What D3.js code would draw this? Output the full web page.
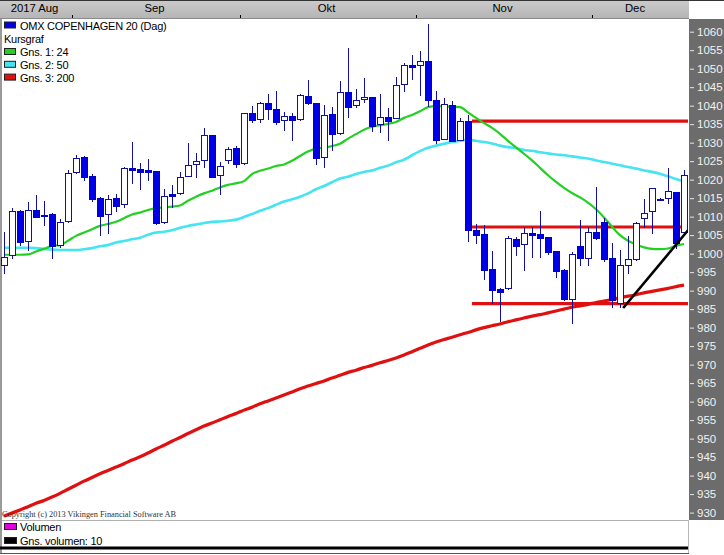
<!DOCTYPE html>
<html><head><meta charset="utf-8">
<script src="https://cdn.jsdelivr.net/npm/d3@7"></script>
<style>
html,body{margin:0;padding:0;background:#fff;}
svg{display:block;font-family:"Liberation Sans",Arial,sans-serif;}
</style>
</head><body>
<svg id="chart" width="724" height="555"></svg>
<script>
// ---------------- data ----------------
const firstDay = new Date(2017, 7, 21), lastDay = new Date(2017, 11, 18);
const monthNames = ["2017 Aug", "Sep", "Okt", "Nov", "Dec"];

const open = [996.8,999.5,1011.4,1003.5,1011.7,1010.5,1010.7,1002.3,1008.7,1022.0,
1026.1,1021.0,1015.0,1010.6,1015.0,1013.3,1023.1,1022.9,1022.5,1022.3,
1008.5,1016.1,1016.3,1021.0,1024.2,1025.2,1032.0,1021.2,1025.3,1028.6,
1024.4,1037.9,1036.3,1040.6,1039.0,1036.1,1037.1,1036.3,1042.6,1040.6,
1026.0,1037.7,1032.5,1043.7,1040.1,1041.7,1042.3,1035.0,1036.9,1036.7,
1045.9,1050.9,1050.9,1052.0,1041.4,1031.1,1040.1,1030.8,1035.8,1006.4,
1005.3,995.9,990.5,990.6,1004.0,1002.5,1005.5,1005.3,1004.4,1000.7,
995.6,987.8,1002.1,998.9,1005.8,1008.5,998.8,986.6,997.0,998.5,
1009.6,1011.5,1014.6,1015.0,1016.6,1005.9];
const high = [1005.9,1012.3,1011.8,1013.9,1015.8,1014.1,1010.9,1009.4,1022.6,1026.7,
1026.3,1021.5,1015.2,1015.9,1016.0,1023.3,1030.1,1024.4,1025.6,1022.4,
1017.5,1018.6,1022.0,1029.8,1027.1,1033.9,1032.1,1024.7,1028.9,1029.1,
1038.0,1039.9,1041.1,1043.1,1044.0,1038.3,1037.9,1043.2,1046.9,1040.7,
1040.2,1039.6,1046.6,1055.6,1044.5,1047.4,1042.4,1043.2,1039.4,1047.8,
1051.5,1053.8,1054.7,1062.1,1043.9,1042.1,1041.2,1036.7,1037.4,1008.0,
1007.7,1000.6,990.7,1004.8,1004.6,1007.3,1007.1,1011.5,1004.6,1000.8,
995.8,1000.5,1009.1,1007.1,1018.1,1009.6,1002.8,1001.0,1004.8,1008.5,
1014.7,1017.8,1015.0,1023.1,1016.7,1022.6];
const low = [994.9,998.9,1002.3,1001.0,1009.8,1007.7,998.9,1001.9,1008.6,1021.9,
1019.9,1014.3,1005.0,1005.7,1011.4,1012.7,1019.0,1017.6,1019.9,1008.1,
1008.4,1012.7,1016.2,1020.9,1020.8,1023.3,1020.6,1016.1,1024.4,1023.3,
1024.3,1035.7,1035.7,1036.5,1035.0,1033.4,1030.7,1036.2,1040.5,1024.1,
1023.5,1028.0,1032.4,1037.0,1039.7,1041.0,1033.1,1032.8,1030.8,1036.6,
1044.1,1047.2,1042.8,1039.8,1029.9,1031.0,1030.4,1030.7,1003.3,1002.9,
993.2,986.7,981.7,990.5,999.5,995.6,999.2,999.2,1000.0,993.8,
987.5,981.2,997.0,996.9,1004.0,998.0,985.7,985.7,994.7,998.4,
1007.3,1005.5,1014.4,1013.6,1001.4,1005.5];
const close = [999.0,1011.5,1003.2,1011.7,1010.0,1010.2,1002.1,1008.5,1021.7,1025.9,
1020.8,1014.8,1010.3,1014.9,1013.0,1023.1,1022.6,1022.2,1022.2,1008.2,
1015.5,1015.7,1020.7,1023.9,1025.0,1032.0,1020.8,1023.8,1028.2,1024.1,
1037.9,1036.0,1040.6,1039.0,1035.7,1037.1,1036.0,1042.8,1040.6,1025.8,
1037.6,1032.3,1043.7,1039.6,1041.5,1042.3,1034.6,1036.9,1035.8,1045.6,
1050.9,1050.5,1052.0,1041.4,1030.8,1040.5,1030.5,1035.8,1006.3,1005.1,
995.7,990.3,989.6,1004.1,1002.2,1005.5,1005.1,1004.2,1000.5,995.4,
987.7,999.8,998.8,1005.8,1004.3,998.5,987.5,997.0,998.5,1008.4,
1011.1,1017.7,1014.9,1017.0,1002.8,1021.3];

// moving averages (Gns. 1: 24, Gns. 2: 50, Gns. 3: 200)
const ma24 = [999.7,999.7,999.7,999.8,1000.6,1001.3,1002.1,1002.3,1003.5,1004.8,
1005.7,1006.6,1007.5,1008.0,1008.6,1009.6,1010.6,1011.1,1011.8,1012.3,
1012.5,1012.7,1013.0,1014.3,1015.4,1016.3,1017.0,1017.9,1018.6,1019.0,
1019.6,1021.5,1022.4,1023.0,1023.7,1024.1,1025.1,1026.4,1027.6,1028.4,
1028.6,1029.1,1029.7,1031.1,1032.3,1033.5,1034.3,1034.7,1035.1,1035.6,
1036.7,1037.5,1038.5,1039.6,1039.9,1039.8,1039.7,1039.6,1038.2,1036.7,
1035.3,1034.0,1032.4,1030.5,1028.7,1027.0,1025.2,1023.2,1021.2,1019.4,
1017.8,1016.4,1015.2,1013.8,1012.0,1009.8,1007.3,1005.0,1003.5,1002.5,
1001.7,1001.3,1001.2,1001.4,1002.1,1002.6];
const ma50 = [1001.6,1001.6,1001.6,1001.6,1001.5,1001.3,1001.1,1001.0,1001.0,1001.0,
1001.2,1001.5,1002.0,1002.3,1003.0,1003.4,1003.9,1004.3,1005.1,1005.7,
1005.9,1006.3,1007.0,1007.5,1007.9,1008.3,1008.6,1008.7,1008.9,1009.2,
1009.9,1010.7,1011.6,1012.3,1013.2,1014.1,1014.7,1015.4,1016.3,1017.4,
1018.3,1019.3,1020.3,1020.8,1021.5,1022.1,1022.5,1023.2,1023.8,1024.7,
1025.4,1026.6,1027.7,1028.6,1029.2,1029.7,1030.2,1030.5,1030.8,1030.5,
1030.2,1029.8,1029.2,1028.8,1028.5,1028.0,1027.8,1027.4,1027.1,1026.8,
1026.6,1026.3,1026.0,1025.7,1025.2,1024.8,1024.3,1023.9,1023.4,1023.0,
1022.5,1022.1,1021.6,1020.9,1020.2,1019.5];
const ma200 = [929.0,929.9,930.7,931.6,932.5,933.3,934.2,935.2,936.3,937.4,
938.5,939.5,940.5,941.4,942.3,943.2,944.2,945.1,946.1,947.2,
948.2,949.3,950.3,951.4,952.4,953.4,954.2,955.1,956.0,956.8,
957.7,958.5,959.4,960.2,961.0,961.8,962.6,963.5,964.2,964.9,
965.6,966.4,967.1,967.9,968.5,969.2,969.8,970.5,971.1,971.8,
972.6,973.5,974.4,975.3,976.1,976.8,977.4,978.1,978.7,979.4,
980.0,980.5,981.0,981.6,982.1,982.6,983.1,983.5,984.0,984.5,
985.0,985.5,985.9,986.3,986.8,987.2,987.6,988.1,988.5,988.9,
989.4,989.8,990.2,990.6,991.1,991.5];

// drawn support / resistance lines (index position along the time axis, value)
const levelLines = [
  {from: 58.5, to: 85.5, value: 1035.8},
  {from: 58.5, to: 85.5, value: 1007.2},
  {from: 58.5, to: 85.5, value: 986.5}
];
const trendLine = [{pos: 77.4, value: 985.3}, {pos: 85.5, value: 1006.3}];

const yTickValues = [930,935,940,945,950,955,960,965,970,975,980,985,990,995,1000,
1005,1010,1015,1020,1025,1030,1035,1040,1045,1050,1055,1060];

const legendNames = ["OMX COPENHAGEN 20 (Dag)", "Kursgraf", "Gns. 1: 24", "Gns. 2: 50", "Gns. 3: 200"];
const legendColors = ["#0000e0", null, "#22d022", "#44e4f2", "#e01010"];
const volumeLegendNames = ["Volumen", "Gns. volumen: 10"];
const volumeLegendColors = ["#e000e0", "#000000"];

// ---------------- chart ----------------
const days = d3.timeDay.range(firstDay, d3.timeDay.offset(lastDay, 1)).filter(d => d.getDay() % 6 !== 0);
const n = days.length;

const svg = d3.select("#chart");
const W = 724, H = 555;
const plotL = 0, plotR = 688, plotT = 19, plotB = 520;
const axisX = 689;
const fs = 11;

const x = d3.scaleLinear().domain([-0.5, n - 0.5]).range([plotL, plotR]);
const y = d3.scaleLinear().domain([928.0, 1063.7]).range([plotB, 18]);
const yVol = d3.scaleLinear().domain([0, 1]).range([548, 524]);

const defs = svg.append("defs");
const grad = defs.append("linearGradient").attr("id", "hdr").attr("x1", 0).attr("x2", 0).attr("y1", 0).attr("y2", 1);
grad.append("stop").attr("offset", "0%").attr("stop-color", "#cbcbcb");
grad.append("stop").attr("offset", "100%").attr("stop-color", "#b5b5b5");
defs.append("clipPath").attr("id", "clip").append("rect")
  .attr("x", plotL).attr("y", plotT).attr("width", plotR - plotL).attr("height", plotB - plotT);

svg.append("rect").attr("width", W).attr("height", H).attr("fill", "#fff");

// header with months
svg.append("rect").attr("x", 0).attr("y", 0).attr("width", axisX).attr("height", 18).attr("fill", "url(#hdr)");
svg.append("line").attr("x1", 0).attr("x2", W).attr("y1", 0.5).attr("y2", 0.5).attr("stroke", "#333");
svg.append("line").attr("x1", 0).attr("x2", axisX).attr("y1", 18.5).attr("y2", 18.5).attr("stroke", "#8a8a8a");

const months = d3.groups(days.map((d, i) => ({d, i})), o => o.d.getMonth()).map(g => g[1]);
months.forEach((g, k) => {
  const a = g[0].i, b = g[g.length - 1].i;
  const cx = (x(a - 0.5) + x(b + 0.5)) / 2 - (k === months.length - 1 ? 5 : 1.5);
  svg.append("text").attr("x", cx).attr("y", 12).attr("text-anchor", "middle")
    .attr("font-size", fs + 0.3).attr("fill", "#000").text(monthNames[k]);
  if (a > 0) {
    svg.append("line").attr("x1", Math.round(x(a - 0.5)) + 0.5).attr("x2", Math.round(x(a - 0.5)) + 0.5)
      .attr("y1", 15).attr("y2", 18).attr("stroke", "#000");
  }
});

// right axis panel
svg.append("rect").attr("x", axisX).attr("y", 19).attr("width", W - axisX).attr("height", plotB - 19).attr("fill", "#6c6c6c");
const yAxis = d3.axisRight(y).tickValues(yTickValues).tickSize(4).tickPadding(3).tickFormat(d3.format("d"));
const ax = svg.append("g").attr("transform", `translate(${axisX + 1},0)`).call(yAxis);
ax.select(".domain").remove();
ax.selectAll(".tick line").attr("stroke", "#e8e8e8");
ax.selectAll(".tick text").attr("fill", "#f2f2f2").attr("font-size", 11.5)
  .attr("font-family", "'Liberation Sans', Arial, sans-serif");

// frame lines
svg.append("line").attr("x1", 0).attr("x2", axisX).attr("y1", plotB + 0.5).attr("y2", plotB + 0.5).attr("stroke", "#b0b0b0");
svg.append("line").attr("x1", plotR + 0.5).attr("x2", plotR + 0.5).attr("y1", plotB).attr("y2", 554).attr("stroke", "#b8b8b8");
svg.append("rect").attr("x", 0).attr("y", 19).attr("width", 2).attr("height", 535).attr("fill", "#9a9a9a");
svg.append("line").attr("x1", 0).attr("x2", plotR + 1).attr("y1", 553.5).attr("y2", 553.5).attr("stroke", "#555");

// plot
const plot = svg.append("g").attr("clip-path", "url(#clip)");

const lineGen = arr => d3.line().x((d, i) => x(i)).y(d => y(d)).curve(d3.curveMonotoneX)(arr);
plot.append("path").attr("d", lineGen(ma200)).attr("fill", "none").attr("stroke", "#e01010").attr("stroke-width", 3.2);

levelLines.forEach(l => {
  plot.append("line").attr("x1", x(l.from)).attr("x2", x(l.to)).attr("y1", y(l.value)).attr("y2", y(l.value))
    .attr("stroke", "#e01010").attr("stroke-width", 3.2);
});

plot.append("path").attr("d", lineGen(ma50)).attr("fill", "none").attr("stroke", "#44e4f2").attr("stroke-width", 2.6);
plot.append("path").attr("d", lineGen(ma24)).attr("fill", "none").attr("stroke", "#22d022").attr("stroke-width", 2.2);

// candles
const wickColor = "#10109a";
const cg = plot.append("g").attr("shape-rendering", "crispEdges");
d3.range(n).forEach(i => {
  const cx = Math.round(x(i));
  cg.append("line").attr("x1", cx + 0.5).attr("x2", cx + 0.5)
    .attr("y1", Math.round(y(high[i]))).attr("y2", Math.round(y(low[i])) + 1)
    .attr("stroke", wickColor).attr("stroke-width", 1);
  const up = close[i] >= open[i];
  const top = Math.round(y(Math.max(open[i], close[i])));
  const bot = Math.round(y(Math.min(open[i], close[i])));
  cg.append("rect").attr("x", cx - 3 + 0.5).attr("y", top + 0.5)
    .attr("width", 6).attr("height", Math.max(1, bot - top))
    .attr("fill", up ? "#ffffff" : "#0000e6")
    .attr("stroke", up ? wickColor : "#0000c8").attr("stroke-width", 1);
});

plot.append("line")
  .attr("x1", x(trendLine[0].pos)).attr("y1", y(trendLine[0].value))
  .attr("x2", x(trendLine[1].pos)).attr("y2", y(trendLine[1].value))
  .attr("stroke", "#000").attr("stroke-width", 2.6);

// legend
const legendBase = [29.5, 43, 56, 68.8, 81.6];
legendNames.forEach((t, k) => {
  if (legendColors[k]) {
    svg.append("rect").attr("x", 4.5).attr("y", legendBase[k] - 7.5).attr("width", 11).attr("height", 6)
      .attr("fill", legendColors[k]).attr("stroke", "#202020").attr("stroke-width", 1);
    svg.append("text").attr("x", 20).attr("y", legendBase[k]).attr("font-size", fs)
      .attr("letter-spacing", -0.25).attr("fill", "#000").text(t);
  } else {
    svg.append("text").attr("x", 4).attr("y", legendBase[k]).attr("font-size", fs)
      .attr("letter-spacing", -0.25).attr("fill", "#000").text(t);
  }
});

// copyright
svg.append("text").attr("x", 2).attr("y", 517).attr("font-family", "'Liberation Serif','Times New Roman',serif")
  .attr("font-size", 8.3).attr("fill", "#333").text("Copyright (c) 2013 Vikingen Financial Software AB");

// volume panel
svg.append("line").attr("x1", x(-0.5)).attr("x2", x(n - 0.5)).attr("y1", yVol(0)).attr("y2", yVol(0))
  .attr("stroke", "#000").attr("stroke-width", 3);
const volBase = [530.5, 544.5];
volumeLegendNames.forEach((t, k) => {
  svg.append("rect").attr("x", 4.5).attr("y", volBase[k] - 7).attr("width", 12).attr("height", 6)
    .attr("fill", volumeLegendColors[k]).attr("stroke", "#202020");
  svg.append("text").attr("x", 20).attr("y", volBase[k]).attr("font-size", fs)
    .attr("letter-spacing", -0.25).attr("fill", "#000").text(t);
});
</script>
</body></html>
